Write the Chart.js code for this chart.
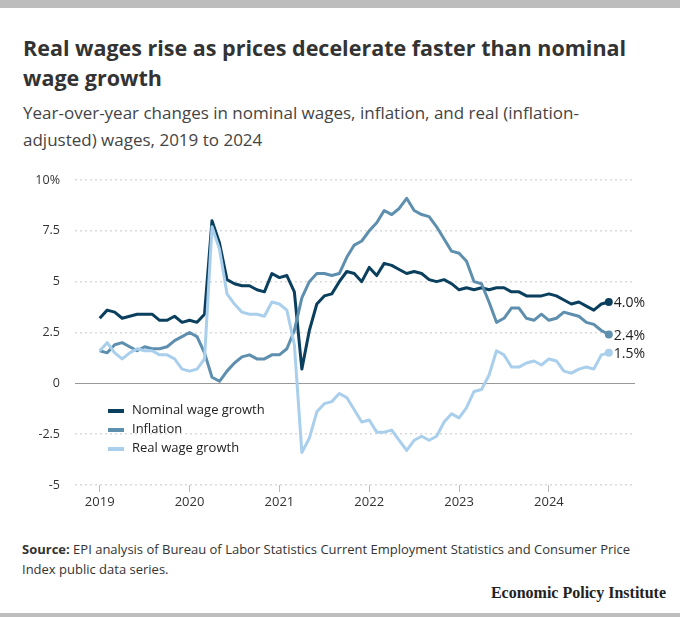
<!DOCTYPE html>
<html>
<head>
<meta charset="utf-8">
<script src="https://cdn.jsdelivr.net/npm/chart.js@4"></script>
<style>
  body { margin: 0; width: 680px; height: 617px; background: #fff; font-family: "Open Sans", sans-serif; position: relative; overflow: hidden; }
  .bar { position: absolute; left: 0; width: 680px; background: #bdbdbd; }
  h1 { position: absolute; left: 23px; top: 33px; margin: 0; width: 650px; font-size: 21.5px; line-height: 30px; font-weight: 700; color: #333; }
  .sub { position: absolute; left: 23px; top: 99px; width: 610px; font-size: 17px; line-height: 27px; color: #444; }
  #wrap { position: absolute; left: 0; top: 150px; width: 680px; height: 370px; }
  .legend { position: absolute; left: 108px; top: 400px; font-size: 13px; color: #222; }
  .legend div { height: 19px; line-height: 19px; }
  .legend span { display: inline-block; width: 16px; height: 4px; margin-right: 8px; vertical-align: middle; }
  .src { position: absolute; left: 22px; top: 539px; width: 630px; font-size: 13px; line-height: 20px; color: #333; }
  .epi { position: absolute; right: 14px; top: 584px; font-family: "Liberation Serif", serif; font-weight: 700; font-size: 16px; color: #222; }
</style>
</head>
<body>
<div class="bar" style="top:0;height:8px"></div>
<div class="bar" style="top:613px;height:4px"></div>
<h1>Real wages rise as prices decelerate faster than nominal wage growth</h1>
<div class="sub">Year-over-year changes in nominal wages, inflation, and real (inflation-adjusted) wages, 2019 to 2024</div>
<div id="wrap"><canvas id="c"></canvas></div>
<div class="legend">
  <div><span style="background:#0b3f5e"></span>Nominal wage growth</div>
  <div><span style="background:#5e8fae"></span>Inflation</div>
  <div><span style="background:#a9cfec"></span>Real wage growth</div>
</div>
<div class="src"><b>Source:</b> EPI analysis of Bureau of Labor Statistics Current Employment Statistics and Consumer Price Index public data series.</div>
<div class="epi">Economic Policy Institute</div>
<script>
// Monthly, Jan 2019 – Sep 2024
const years = [2019, 2020, 2021, 2022, 2023, 2024];
const yTicks = [-5, -2.5, 0, 2.5, 5, 7.5, 10];

const nominal = [
  3.2, 3.6, 3.5, 3.2, 3.3, 3.4, 3.4, 3.4, 3.1, 3.1, 3.3, 3.0,
  3.1, 3.0, 3.4, 8.0, 6.9, 5.1, 4.9, 4.8, 4.8, 4.6, 4.5, 5.4,
  5.2, 5.3, 4.5, 0.7, 2.6, 3.9, 4.3, 4.4, 5.0, 5.5, 5.4, 5.0,
  5.7, 5.3, 5.9, 5.8, 5.6, 5.4, 5.5, 5.4, 5.1, 5.0, 5.1, 4.9,
  4.6, 4.7, 4.6, 4.7, 4.6, 4.7, 4.7, 4.5, 4.5, 4.3, 4.3, 4.3,
  4.4, 4.3, 4.1, 3.9, 4.0, 3.8, 3.6, 3.9, 4.0
];
const inflation = [
  1.6, 1.5, 1.9, 2.0, 1.8, 1.6, 1.8, 1.7, 1.7, 1.8, 2.1, 2.3,
  2.5, 2.3, 1.5, 0.3, 0.1, 0.6, 1.0, 1.3, 1.4, 1.2, 1.2, 1.4,
  1.4, 1.7, 2.6, 4.2, 5.0, 5.4, 5.4, 5.3, 5.4, 6.2, 6.8, 7.0,
  7.5, 7.9, 8.5, 8.3, 8.6, 9.1, 8.5, 8.3, 8.2, 7.7, 7.1, 6.5,
  6.4, 6.0, 5.0, 4.9, 4.0, 3.0, 3.2, 3.7, 3.7, 3.2, 3.1, 3.4,
  3.1, 3.2, 3.5, 3.4, 3.3, 3.0, 2.9, 2.6, 2.4
];
const real = [
  1.6, 2.0, 1.5, 1.2, 1.5, 1.7, 1.6, 1.6, 1.4, 1.4, 1.2, 0.7,
  0.6, 0.7, 1.2, 7.7, 6.6, 4.4, 3.9, 3.5, 3.4, 3.4, 3.3, 4.0,
  3.9, 3.6, 1.9, -3.4, -2.7, -1.4, -1.0, -0.9, -0.5, -0.7, -1.3, -1.9,
  -1.8, -2.4, -2.4, -2.3, -2.8, -3.3, -2.8, -2.6, -2.8, -2.6, -1.9, -1.5,
  -1.7, -1.2, -0.4, -0.3, 0.4, 1.6, 1.4, 0.8, 0.8, 1.0, 1.1, 0.9,
  1.2, 1.1, 0.6, 0.5, 0.7, 0.8, 0.7, 1.4, 1.5
];

const toPts = arr => arr.map((v, i) => ({ x: i, y: v }));

const endLabels = {
  id: 'endLabels',
  afterDatasetsDraw(chart) {
    const ctx = chart.ctx;
    ctx.save();
    ctx.font = '14px "Open Sans", sans-serif';
    ctx.textBaseline = 'middle';
    chart.data.datasets.forEach((ds, i) => {
      const pts = chart.getDatasetMeta(i).data;
      const p = pts[pts.length - 1];
      ctx.beginPath();
      ctx.arc(p.x, p.y, 4, 0, Math.PI * 2);
      ctx.fillStyle = ds.borderColor;
      ctx.fill();
      ctx.fillStyle = '#222';
      const v = ds.data[ds.data.length - 1].y;
      ctx.fillText(v.toFixed(1) + '%', p.x + 5, p.y + 1);
    });
    ctx.restore();
  }
};

const line = (data, color) => ({
  data: toPts(data), borderColor: color, backgroundColor: color,
  borderWidth: 3, pointRadius: 0, tension: 0, borderJoinStyle: 'round'
});

new Chart(document.getElementById('c'), {
  type: 'line',
  data: {
    datasets: [
      line(real, '#a9cfec'),
      line(inflation, '#5e8fae'),
      line(nominal, '#0b3f5e')
    ]
  },
  options: {
    responsive: true,
    maintainAspectRatio: false,
    animation: false,
    layout: { padding: { top: 30, right: 45, bottom: 0, left: 0 } },
    plugins: { legend: { display: false }, tooltip: { enabled: false } },
    scales: {
      x: {
        type: 'linear', min: -3.3, max: 71.5,
        afterBuildTicks: ax => { ax.ticks = years.map((y, i) => ({ value: i * 12 })); },
        afterFit: ax => { ax.height = 35; },
        ticks: {
          color: '#333', font: { family: 'Open Sans', size: 13 }, padding: 2,
          callback: (v) => years[v / 12]
        },
        grid: { drawOnChartArea: false, color: '#bbb', tickLength: 7 },
        border: { display: false }
      },
      y: {
        min: -5, max: 10,
        afterBuildTicks: ax => { ax.ticks = yTicks.map(v => ({ value: v })); },
        afterFit: ax => { ax.width = 75; },
        ticks: {
          color: '#333', font: { family: 'Open Sans', size: 12.5 }, padding: 15,
          callback: v => v === 10 ? '10%' : String(v)
        },
        grid: {
          color: ctx => ctx.tick.value === 0 ? '#999' : '#d9d9d9',
          lineWidth: ctx => ctx.tick.value === 0 ? 1 : 1.5,
          drawTicks: false
        },
        border: { display: false, dash: ctx => ctx.tick.value === 0 ? [] : [2, 3] }
      }
    }
  },
  plugins: [endLabels]
});
</script>
</body>
</html>
